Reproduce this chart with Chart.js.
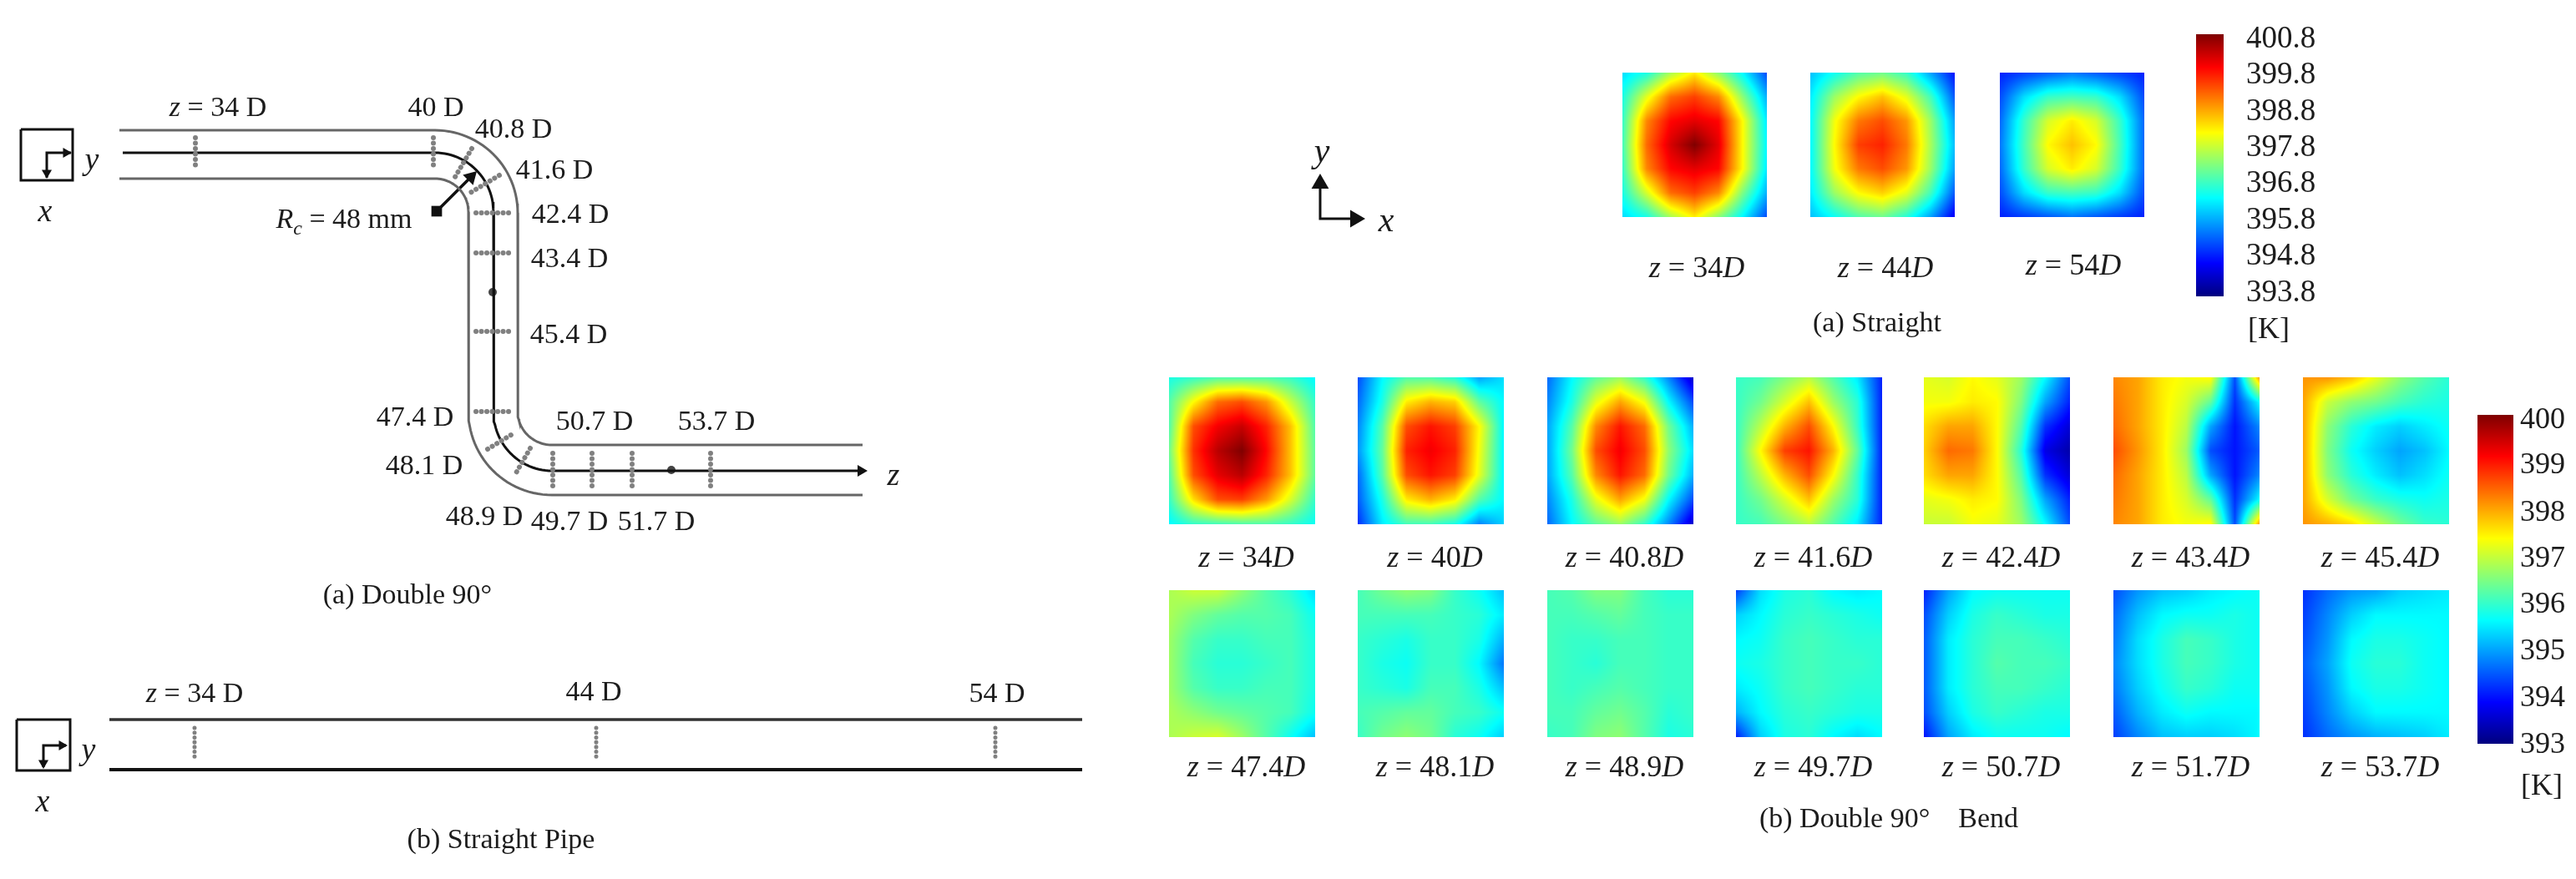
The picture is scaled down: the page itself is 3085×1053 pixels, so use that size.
<!DOCTYPE html>
<html>
<head>
<meta charset="utf-8">
<style>
html,body{margin:0;padding:0;background:#fff}
canvas{display:block;filter:blur(0.6px)}
</style>
<script src="https://cdn.jsdelivr.net/npm/chart.js@4/dist/chart.umd.min.js"></script>
</head>
<body>
<canvas id="c" width="3085" height="1053"></canvas>
<script>
// ---------- DATA: temperature maps in K (7 x 7 probe grid, rows top to bottom) ----------
const straightStations = ['z = 34D','z = 44D','z = 54D'];
const bendStations = ['z = 34D','z = 40D','z = 40.8D','z = 41.6D','z = 42.4D','z = 43.4D','z = 45.4D',
                      'z = 47.4D','z = 48.1D','z = 48.9D','z = 49.7D','z = 50.7D','z = 51.7D','z = 53.7D'];
const straightTicks = ['400.8','399.8','398.8','397.8','396.8','395.8','394.8','393.8'];
const bendTicks = ['400','399','398','397','396','395','394','393'];
const straightRange = [393.8,400.8];
const bendRange = [393,400];

const s34 = [[396.2,396.6,397.6,398.3,397.4,396.4,395.2],[396.6,398,399.2,399.5,399,397.4,395.9],[396.8,399,399.9,400.1,399.9,398.2,396.3],[396.9,399.2,400.2,400.8,400.1,398.2,396.4],[396.8,399,399.9,400.1,399.9,398.2,396.3],[396.6,397.9,399.2,399.5,399,397.3,395.9],[396.2,396.6,397.6,398.3,397.4,396.4,395.2]];
const s44 = [[396,396.5,397,397.2,396.8,395.8,394.8],[396.3,397.5,398.2,398.6,398,396.9,395.3],[396.4,398.1,399.1,399.4,398.9,397.5,395.8],[396.4,398.2,399.5,399.7,399.1,397.6,396],[396.4,398.1,399.1,399.4,398.9,397.5,395.8],[396.3,397.5,398.2,398.5,398,396.9,395.3],[396,396.5,397,397.2,396.7,395.8,394.6]];
const s54 = [[394.9,395.1,395.3,395.5,395.3,395.1,394.9],[395.2,396.2,396.8,396.9,396.8,396.2,395.2],[395.4,396.8,397.9,398.3,397.9,396.8,395.4],[395.5,396.9,398.2,398.6,398.2,396.9,395.4],[395.4,396.8,397.9,398.3,397.9,396.8,395.4],[395.2,396.2,396.8,396.9,396.8,396.2,395.2],[394.9,395.1,395.3,395.5,395.3,395.1,394.9]];

const b34 = [[395.8,396,396.2,396.2,396.2,396,395.6],[396.2,397.4,398.4,398.6,398.1,397,396],[396.2,398.6,399.2,399.5,398.9,397.8,396.2],[396.4,398.8,399.6,400,399.1,397.8,396.3],[396.2,398.6,399.3,399.6,398.9,397.8,396.3],[396,397.6,398.6,398.7,398.1,397.1,396],[395.6,396,396.1,396.2,396.2,396,395.7]];
const b40 = [[394.4,395.6,396.2,396.2,395.9,395,395.4],[394.6,395.8,397.5,397.9,397.7,396.3,395.6],[394.8,396.2,398.6,399,398.7,397.4,395.6],[394.9,396.3,398.9,399.2,398.9,397.3,395.6],[394.6,396.2,398.6,399,398.7,397.2,395.6],[394.5,395.8,397.5,397.9,397.5,396.2,395.6],[394.2,395.5,396.1,396.1,395.8,394.8,395.3]];
const b408 = [[394.6,395.6,396.3,396.7,396,394.8,393.5],[394.8,395.8,397.2,398,397.3,395.6,394.4],[395,396.2,398.2,399,398.4,396.4,395.1],[395,396.4,398.6,399.2,398.6,396.6,395.4],[395,396.2,398.2,399,398.4,396.4,395.1],[394.8,395.8,397.2,398,397.3,395.6,394.4],[394.6,395.6,396.3,396.7,396,394.8,393.5]];
const b416 = [[396,396.1,396.5,396.9,396.2,395.5,394.1],[396,396.4,397.1,397.8,396.7,395.9,394.1],[396,396.9,397.9,398.6,397.4,396,394.1],[396,397.4,398.7,399,397.9,396.3,394.1],[396,396.9,397.9,398.6,397.4,396,394.1],[396,396.4,397.1,397.8,396.7,395.9,394.1],[396,396.1,396.5,396.9,396.2,395.5,394.1]];
const b424 = [[397.2,397.1,397.4,397.2,396.7,395.6,394.4],[397.3,397.3,397.5,397.4,396.5,395,394.1],[397.6,398,398,397.4,396.2,394.2,393.6],[397.7,398.4,398.3,397.4,395.9,393.7,393.3],[397.6,398,398,397.4,396.2,394.2,393.6],[397.2,397.3,397.5,397.4,396.5,395,394.1],[397,397,397.3,397.2,396.7,395.6,394.4]];
const b434 = [[398.2,398,397.5,397.3,397.4,394.4,398],[398.3,398,397.5,397.1,396.3,394.2,395.6],[398.4,398,397.5,396.9,395,394,394.8],[398.6,398.1,397.5,396.7,394.4,394,394.5],[398.4,398,397.5,396.9,395,394,394.8],[398.3,398,397.5,397.1,396.3,394.2,395.6],[398.2,398,397.5,397.3,397.4,394.4,398]];
const b454 = [[398.1,398.1,397.8,397.2,396.6,396.2,395.9],[398,397,396.6,396.4,396.1,395.9,395.8],[398,396.6,395.9,395.5,395.3,395.5,395.7],[398,396.5,395.7,395.3,395,395.2,395.6],[398,396.6,395.9,395.5,395.2,395.4,395.7],[398,397.1,396.4,396,395.8,395.7,395.8],[398.1,397.9,397.6,397,396.4,396,395.9]];
const b474 = [[396.8,397,397,396.6,396.2,395.9,395.4],[396.8,396.5,396.3,396.2,396.2,396.1,395.7],[396.7,396.2,396,396,396.1,396.1,395.8],[396.7,396.1,395.9,395.9,396,396.1,395.8],[396.7,396.2,396,396,396.1,396.1,395.8],[396.8,396.6,396.4,396.3,396.2,396.1,395.7],[396.8,397,397.1,396.7,396.2,395.7,395.2]];
const b481 = [[396.1,396.4,396.6,396.5,396,395.7,395.2],[396.1,396.1,396.1,396.1,396,395.9,395.5],[396,395.9,395.8,396,396,395.8,395.1],[396,395.8,395.7,396,396,395.6,394.7],[396,395.9,395.8,396.1,396.1,395.8,395.2],[396.1,396.2,396.3,396.3,396.1,396,395.7],[396,396.4,396.6,396.4,395.9,395.7,395.3]];
const b489 = [[396.1,396.2,396.5,396.5,396.1,395.9,395.9],[396.1,396.1,396.2,396.3,396.1,396,396],[396.1,396,396,396.1,396.1,396,396],[396.1,396,395.9,396.1,396.1,396,396],[396.1,396,396.1,396.2,396.1,396,396],[396.1,396.1,396.3,396.4,396.2,395.9,396],[396,396.1,396.5,396.6,396.2,395.8,395.9]];
const b497 = [[394.3,395.4,395.8,395.9,395.6,395.5,395.6],[395.3,395.6,395.9,396,395.9,395.8,395.7],[395.6,395.7,396,396.1,396,395.9,395.9],[395.7,395.8,396,396.1,396,396,395.9],[395.5,395.7,396,396.1,396,395.9,395.9],[395.1,395.6,395.9,396,395.9,395.8,395.8],[394.1,395.3,395.8,395.9,395.6,395.4,395.6]];
const b507 = [[394.1,395,395.6,395.7,395.7,395.7,395.7],[394.4,395.3,395.8,396,395.9,395.8,395.8],[394.5,395.5,395.9,396.1,396.1,396,395.9],[394.5,395.5,395.9,396.2,396.1,396.1,396],[394.5,395.5,395.9,396.1,396.1,396,395.9],[394.4,395.3,395.8,396,395.9,395.8,395.8],[394,395,395.5,395.7,395.7,395.7,395.6]];
const b517 = [[394.4,394.9,395.2,395.3,395.5,395.6,395.7],[394.6,395.2,395.6,395.7,395.7,395.8,395.7],[394.7,395.4,395.8,396.1,396,395.8,395.7],[394.8,395.4,395.8,396.1,396,395.8,395.7],[394.7,395.3,395.7,396,395.9,395.7,395.7],[394.5,395.1,395.5,395.7,395.6,395.6,395.6],[394.3,394.8,395.2,395.3,395.3,395.4,395.6]];
const b537 = [[394.2,394.6,394.9,395,395.3,395.4,395.5],[394.3,394.8,395.3,395.6,395.6,395.6,395.6],[394.4,394.9,395.6,395.8,395.8,395.7,395.6],[394.5,395,395.7,395.9,395.9,395.7,395.6],[394.4,394.9,395.6,395.8,395.8,395.7,395.6],[394.3,394.8,395.3,395.6,395.6,395.6,395.6],[394.2,394.6,394.9,395.1,395.2,395.3,395.5]];

const straightMaps = [s34,s44,s54];
const bendMaps = [b34,b40,b408,b416,b424,b434,b454,b474,b481,b489,b497,b507,b517,b537];

// Texts of the schematics
const bendLabels = ['z = 34 D','40 D','40.8 D','41.6 D','42.4 D','43.4 D','45.4 D','47.4 D','48.1 D','48.9 D','49.7 D','51.7 D','50.7 D','53.7 D'];
const straightLabels = ['z = 34 D','44 D','54 D'];
const captions = ['(a) Double 90°','(b) Straight Pipe','(a) Straight','(b) Double 90°\u00a0\u00a0\u00a0\u00a0Bend'];

// ---------- LAYOUT (page pixels) ----------
const straightX = [1943,2168,2395], straightY = 87, straightSize = 173;
const bendX = [1400,1626,1853,2079,2304,2531,2758], bendRowY = [452,707], bendW = 175, bendH = 176;
const straightLabelX = [2032,2258,2483], straightLabelY = [320,320,317];
const bendLabelDX = 5, bendLabelRowY = [667,918];
const bar1 = {x:2630,y:41,w:33,h:314}, bar2 = {x:2967,y:497,w:43,h:394};
const bar1TickY = [45,88,132,175,218,262,305,349], bar2TickY = [501,555,612,667,722,778,834,890];
const bendLabelPos = [[261,128],[522,128],[615,154],[664,203],[683,256],[682,309],[681,400],[497,499],[508,557],[580,618],[682,624],[786,624],[712,504],[858,504]];
const straightLabelPos = [[233,830],[711,828],[1194,830]];
const captionPos = [[488,712],[600,1005],[2248,386],[2262,980]];

const GRAY='#666', BLACK='#111', DOT='#808080';
function arc(cx,cy,rx,ry,a0,a1,n=28){
  const p=[];
  for(let i=0;i<=n;i++){const a=(a0+(a1-a0)*i/n)*Math.PI/180;p.push({x:cx+rx*Math.cos(a),y:cy+ry*Math.sin(a)});}
  return p;
}
const P=(x,y)=>({x,y});
const line=(pts,color,w,extra={})=>({type:'scatter',data:pts,showLine:true,borderColor:color,borderWidth:w,pointRadius:0,tension:0,fill:false,...extra});
const mark=(x,y,style,r,rot,color)=>({type:'scatter',data:[P(x,y)],showLine:false,pointStyle:style,pointRadius:r,rotation:rot,backgroundColor:color,borderColor:color,borderWidth:0});
const probe=(x0,y0,x1,y1,w=6,gap=6.4)=>line([P(x0,y0),P(x1,y1)],DOT,w,{borderCapStyle:'round',borderDash:[0.1,gap]});

const shapes=[
  // double bend walls and centre line
  line([P(143,156),...arc(521,255,99,99,-90,0),...arc(661,493,41,40,180,90),P(1033,533)],GRAY,3),
  line([P(143,214),...arc(521,254,40,40,-90,0),...arc(661,493,100,100,180,90),P(1033,593)],GRAY,3),
  // probes
  probe(234,165,234,204), probe(519,165,519,204), probe(565,178,545,212), probe(598,210,563,231),
  probe(570,255,611,255), probe(570,303,611,303), probe(570,397,611,397), probe(570,493,611,493),
  probe(584,538,617,518), probe(635,537,616,570),
  probe(662,543,662,583), probe(709,543,709,583), probe(757,543,757,583), probe(851,543,851,583),
  // centre line
  line([P(147,183),...arc(521,254,70,71,-90,0),...arc(661,493,70,71,180,90),P(1030,564)],BLACK,3),
  mark(1031,564,'triangle',8,90,BLACK),
  // coordinate box, bend
  line([P(25,155),P(87,155),P(87,216),P(25,216),P(25,155)],BLACK,3),
  line([P(56,213),P(56,183),P(85,183)],BLACK,3),
  mark(79,183,'triangle',7,90,BLACK), mark(56,207,'triangle',7,180,BLACK),
  // bend radius arrow
  line([P(523,253),P(566,210)],BLACK,3.5),
  mark(523,253,'rect',9,0,BLACK), mark(564,212,'triangle',10,45,BLACK),
  mark(590,350,'circle',5,0,'#444'), mark(804,563,'circle',5,0,'#444'),
  // straight pipe
  line([P(131,862),P(1296,862)],'#333',3.5),
  line([P(131,922),P(1296,922)],BLACK,4),
  line([P(20,862),P(84,862),P(84,923),P(20,923),P(20,862)],BLACK,3),
  line([P(52,919),P(52,893),P(79,893)],BLACK,3),
  mark(74,893,'triangle',7,90,BLACK), mark(52,914,'triangle',7,180,BLACK),
  probe(233,872,233,911,5,5.6), probe(714,872,714,911,5,5.6), probe(1192,872,1192,911,5,5.6),
  // xy triad
  line([P(1581,222),P(1581,262),P(1622,262)],BLACK,3),
  mark(1581,220,'triangle',12,0,BLACK), mark(1623,262,'triangle',12,90,BLACK)
];

// Temperature maps: each node is a point of a dataset, the plugin paints through the scales
function heat(grid,x,y,w,h,range){
  const data=[];
  grid.forEach((row,r)=>row.forEach((v,c)=>data.push({x:x+w*c/6,y:y+h*r/6,v})));
  return {type:'scatter',data,showLine:false,pointRadius:0,heat:{rows:grid.length,cols:grid[0].length,range}};
}
const heats=[];
straightMaps.forEach((g,i)=>heats.push(heat(g,straightX[i],straightY,straightSize,straightSize,straightRange)));
bendMaps.forEach((g,i)=>heats.push(heat(g,bendX[i%7],bendRowY[i<7?0:1],bendW,bendH,bendRange)));

function bar(b,range){
  return {type:'scatter',data:[{x:b.x,y:b.y,v:range[1]},{x:b.x+b.w,y:b.y,v:range[1]},{x:b.x,y:b.y+b.h,v:range[0]},{x:b.x+b.w,y:b.y+b.h,v:range[0]}],
          showLine:false,pointRadius:0,heat:{rows:2,cols:2,range}};
}
const bars=[bar(bar1,straightRange),bar(bar2,bendRange)];

function jet(t){
  const cl=v=>Math.max(0,Math.min(1,v));
  return [cl(1.5-Math.abs(4*t-3))*255,cl(1.5-Math.abs(4*t-2))*255,cl(1.5-Math.abs(4*t-1))*255];
}
const heatPlugin={
  id:'heat',
  beforeDatasetsDraw(chart){
    const {ctx,scales:{x:sx,y:sy}}=chart;
    chart.data.datasets.forEach(ds=>{
      if(!ds.heat) return;
      const {rows,cols,range}=ds.heat;
      const first=ds.data[0], last=ds.data[ds.data.length-1];
      const px0=sx.getPixelForValue(first.x), py0=sy.getPixelForValue(first.y);
      const px1=sx.getPixelForValue(last.x), py1=sy.getPixelForValue(last.y);
      const w=Math.round(px1-px0), h=Math.round(py1-py0);
      const off=document.createElement('canvas'); off.width=w; off.height=h;
      const oc=off.getContext('2d'), img=oc.createImageData(w,h);
      for(let j=0;j<h;j++){
        const fy=j/(h-1)*(rows-1), r0=Math.min(rows-2,Math.floor(fy)), ty=fy-r0;
        for(let i=0;i<w;i++){
          const fx=i/(w-1)*(cols-1), c0=Math.min(cols-2,Math.floor(fx)), tx=fx-c0;
          const g=(r,c)=>ds.data[r*cols+c].v;
          const v=(g(r0,c0)*(1-tx)+g(r0,c0+1)*tx)*(1-ty)+(g(r0+1,c0)*(1-tx)+g(r0+1,c0+1)*tx)*ty;
          const col=jet((v-range[0])/(range[1]-range[0])), k=(j*w+i)*4;
          img.data[k]=col[0];img.data[k+1]=col[1];img.data[k+2]=col[2];img.data[k+3]=255;
        }
      }
      oc.putImageData(img,0,0);
      ctx.drawImage(off,px0,py0);
    });
  },
  afterDatasetsDraw(chart){
    const {ctx,scales:{x:sx,y:sy}}=chart;
    const FONT='"Liberation Serif"';
    const INK='#1c1c1c';
    // text made of runs: run[0] text, run[1] italic flag, run[2] size, run[3] baseline shift
    function runs(list,xc,yc,size,align){
      ctx.fillStyle=INK; ctx.textBaseline='alphabetic'; ctx.textAlign='left';
      const font=r=>`${r[1]?'italic ':''}${r[2]||size}px ${FONT}`;
      let tot=0; list.forEach(r=>{ctx.font=font(r);tot+=ctx.measureText(r[0]).width;});
      let x=sx.getPixelForValue(xc)-(align==='left'?0:tot/2);
      const y=sy.getPixelForValue(yc)+size*0.33;
      list.forEach(r=>{ctx.font=font(r);ctx.fillText(r[0],x,y+(r[3]||0));x+=ctx.measureText(r[0]).width;});
    }
    const pipeRuns=s=>s.startsWith('z ')?[['z',1],[s.slice(1),0]]:[[s,0]];
    const mapRuns=s=>[['z',1],[s.slice(1,-1),0],['D',1]];
    bendLabels.forEach((s,i)=>runs(pipeRuns(s),bendLabelPos[i][0],bendLabelPos[i][1],34));
    straightLabels.forEach((s,i)=>runs(pipeRuns(s),straightLabelPos[i][0],straightLabelPos[i][1],34));
    runs([['R',1],['c',1,24,8],[' = 48 mm',0]],412,262,34);
    runs([['y',1]],110,190,38); runs([['x',1]],54,252,38);
    runs([['y',1]],106,897,38); runs([['x',1]],51,959,38);
    runs([['z',1]],1070,568,38);
    runs([['y',1]],1583,180,42); runs([['x',1]],1660,263,42);
    captions.forEach((s,i)=>runs([[s,0]],captionPos[i][0],captionPos[i][1],34));
    straightStations.forEach((s,i)=>runs(mapRuns(s),straightLabelX[i],straightLabelY[i],36));
    bendStations.forEach((s,i)=>runs(mapRuns(s),bendX[i%7]+bendW/2+bendLabelDX,bendLabelRowY[i<7?0:1],36));
    straightTicks.forEach((s,i)=>runs([[s,0]],2690,bar1TickY[i],37,'left'));
    bendTicks.forEach((s,i)=>runs([[s,0]],3018,bar2TickY[i],36,'left'));
    runs([['[K]',0]],2692,393,36,'left');
    runs([['[K]',0]],3019,940,36,'left');
  }
};

new Chart(document.getElementById('c'),{
  type:'scatter',
  data:{datasets:[...heats,...bars,...shapes]},
  options:{
    responsive:false,animation:false,devicePixelRatio:1,
    layout:{padding:0,autoPadding:false},
    plugins:{legend:{display:false},tooltip:{enabled:false},title:{display:false}},
    scales:{
      x:{type:'linear',min:0,max:3085,display:false},
      y:{type:'linear',min:0,max:1053,reverse:true,display:false}
    }
  },
  plugins:[heatPlugin]
});
</script>
</body>
</html>
